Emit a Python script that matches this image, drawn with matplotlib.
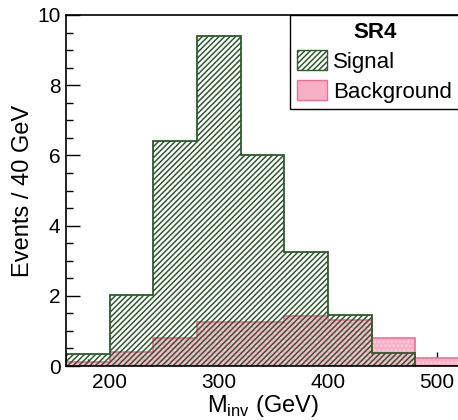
import matplotlib
matplotlib.use("Agg")
import matplotlib.pyplot as plt
import numpy as np
from matplotlib.ticker import MultipleLocator
from matplotlib.patches import Patch

plt.rcParams['font.family'] = ['Liberation Sans', 'DejaVu Sans']
plt.rcParams['hatch.linewidth'] = 1.1

bin_edges = [160, 200, 240, 280, 320, 360, 400, 440, 480, 520]
signal = [0.33, 2.02, 6.41, 9.40, 6.01, 3.25, 1.44, 0.36, 0.0]
background = [0.10, 0.39, 0.81, 1.24, 1.26, 1.42, 1.31, 0.81, 0.24]

W, H = 458, 420
fig = plt.figure(figsize=(W / 100, H / 100), dpi=100)
ax = fig.add_axes([66 / W, (H - 366) / H, (459 - 66) / W, (366 - 15) / H])

pink_face = '#f8b0c6'
pink_dots = '#fbd0dd'
pink_edge = '#f06f97'
green = '#2e5a2e'

ax.stairs(background, bin_edges, fill=True, facecolor=pink_face,
          edgecolor=pink_dots, hatch='....', linewidth=0, zorder=2)
ax.stairs(background, bin_edges, fill=False, color=pink_edge,
          linewidth=1.2, zorder=2.5)
ax.stairs(signal, bin_edges, fill=True, facecolor='none', edgecolor=green,
          hatch='//////', linewidth=0, zorder=3)
ax.stairs(signal, bin_edges, fill=False, color=green, linewidth=1.3,
          zorder=3.5)

ax.set_xlim(160, 520)
ax.set_ylim(0, 10)
ax.xaxis.set_major_locator(MultipleLocator(100))
ax.xaxis.set_minor_locator(MultipleLocator(20))
ax.yaxis.set_major_locator(MultipleLocator(2))
ax.yaxis.set_minor_locator(MultipleLocator(0.5))
ax.tick_params(which='both', direction='in', top=False, right=False,
               labelsize=15, width=1.0)
ax.tick_params(which='major', length=10)
ax.tick_params(which='minor', length=5)
ax.tick_params(axis='x', pad=5)
ax.tick_params(axis='y', pad=4)
for s in ax.spines.values():
    s.set_linewidth(1.2)
    s.set_zorder(6)

ax.set_xlabel(r'M$_{\mathregular{inv}}$ (GeV)', fontsize=17, labelpad=1)
ax.set_ylabel('Events / 40 GeV', fontsize=17, labelpad=2)

h1 = Patch(facecolor='white', edgecolor=green, hatch='//////', label='Signal')
h2 = Patch(facecolor=pink_face, edgecolor=pink_edge, label='Background')
leg = ax.legend(handles=[h1, h2], title='SR4', loc='upper right',
                bbox_to_anchor=(1.0, 1.0), fontsize=16,
                title_fontproperties={'weight': 'bold', 'size': 16},
                fancybox=False, framealpha=1, edgecolor='black',
                handlelength=1.35, handleheight=0.95, handletextpad=0.3,
                borderpad=0.3, labelspacing=0.35, borderaxespad=0)
leg.get_frame().set_linewidth(1.0)
leg.set_zorder(10)

fig.savefig('out.png', dpi=100)
